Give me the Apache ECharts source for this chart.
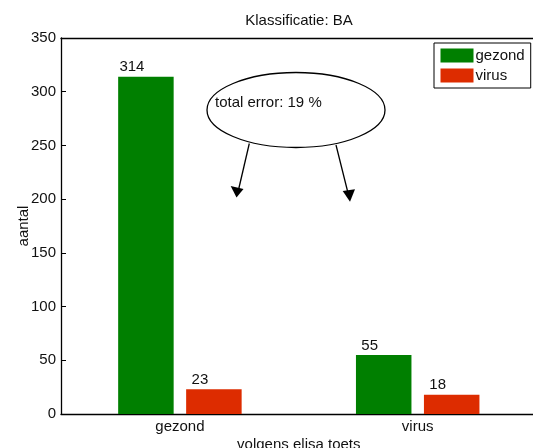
<!DOCTYPE html>
<html>
<head>
<meta charset="utf-8">
<script src="https://cdn.jsdelivr.net/npm/echarts@6/dist/echarts.min.js"></script>
<style>
  html, body { margin: 0; padding: 0; background: #fff; }
  #chart { width: 533px; height: 448px; }
</style>
</head>
<body>
<div id="chart"></div>
<script>
// Counts per ELISA class, split by classification outcome
const categories = ['gezond', 'virus'];
const seriesNames = ['gezond', 'virus'];
const gezondValues = [314, 55];
const virusValues = [23, 18];
const yTicks = { min: 0, max: 350, interval: 50 };
const titleText = 'Klassificatie: BA';
const xAxisName = 'volgens elisa toets';
const yAxisName = 'aantal';
const noteText = 'total error: 19 %';

const FONT = 'Liberation Sans, Arial, Helvetica, sans-serif';
const TEXT = '#111';
const GREEN = '#007f00';
const RED = '#dd2c00';

const chart = echarts.init(document.getElementById('chart'), null, { renderer: 'canvas' });

const barLabel = {
  show: true,
  position: 'top',
  distance: 2,
  offset: [-14, 0],
  color: TEXT,
  fontFamily: FONT,
  fontSize: 15,
  formatter: '{c}'
};

const option = {
  backgroundColor: '#fff',
  animation: false,
  title: {
    text: titleText,
    left: 299,
    top: 13,
    padding: 0,
    textAlign: 'center',
    textStyle: { fontFamily: FONT, fontSize: 15, fontWeight: 'normal', color: TEXT }
  },
  legend: {
    data: seriesNames,
    orient: 'vertical',
    left: 434,
    top: 43,
    padding: [5, 6, 5, 6.5],
    itemWidth: 33,
    itemHeight: 14,
    itemGap: 5,
    icon: 'rect',
    borderColor: '#000',
    borderWidth: 1,
    backgroundColor: '#fff',
    textStyle: { fontFamily: FONT, fontSize: 15, color: TEXT, lineHeight: 14, padding: [0, 0, 0, -3] }
  },
  grid: { left: 61, top: 38, width: 475.6, height: 376, outerBoundsMode: 'none', containLabel: false },
  xAxis: [
    {
      type: 'category',
      data: categories,
      position: 'bottom',
      name: xAxisName,
      nameLocation: 'middle',
      nameGap: 23,
      nameMoveOverlap: false,
      nameTextStyle: { fontFamily: FONT, fontSize: 15, color: TEXT },
      axisLine: { lineStyle: { color: '#000', width: 1.3 } },
      axisTick: { alignWithLabel: true, inside: true, length: 4, lineStyle: { color: '#000' } },
      axisLabel: { fontFamily: FONT, fontSize: 15, color: TEXT, margin: 5 },
      splitLine: { show: false }
    },
    {
      type: 'category',
      data: categories,
      position: 'top',
      axisLine: { lineStyle: { color: '#000', width: 1.3 } },
      axisTick: { alignWithLabel: true, inside: true, length: 4, lineStyle: { color: '#000' } },
      axisLabel: { show: false },
      splitLine: { show: false }
    }
  ],
  yAxis: {
    type: 'value',
    min: yTicks.min,
    max: yTicks.max,
    interval: yTicks.interval,
    name: yAxisName,
    nameLocation: 'middle',
    nameGap: 29.5,
    nameMoveOverlap: false,
    nameTextStyle: { fontFamily: FONT, fontSize: 15, color: TEXT },
    axisLine: { show: true, lineStyle: { color: '#000', width: 1.3 } },
    axisTick: { show: true, inside: true, length: 5, lineStyle: { color: '#000' } },
    axisLabel: { fontFamily: FONT, fontSize: 15, color: TEXT, margin: 5 },
    splitLine: { show: false }
  },
  series: [
    {
      name: seriesNames[0],
      type: 'bar',
      data: gezondValues,
      barWidth: 55.5,
      barGap: '22.5%',
      itemStyle: { color: GREEN },
      label: barLabel
    },
    {
      name: seriesNames[1],
      type: 'bar',
      data: virusValues,
      barWidth: 55.5,
      barGap: '22.5%',
      itemStyle: { color: RED },
      label: barLabel
    }
  ],
  graphic: [
    {
      type: 'ellipse',
      shape: { cx: 296, cy: 110, rx: 89, ry: 37.5 },
      style: { fill: 'rgba(0,0,0,0)', stroke: '#000', lineWidth: 1.3 },
      z: 10
    },
    {
      type: 'text',
      x: 215,
      y: 103,
      style: { text: noteText, fontFamily: FONT, fontSize: 15, fill: TEXT, verticalAlign: 'middle', align: 'left' },
      z: 11
    },
    {
      type: 'line',
      shape: { x1: 249.3, y1: 143.5, x2: 238, y2: 192 },
      style: { stroke: '#000', lineWidth: 1.3 },
      z: 10
    },
    {
      type: 'polygon',
      shape: { points: [[230.7, 186], [243.5, 189], [236.5, 197.5]] },
      style: { fill: '#000' },
      z: 10
    },
    {
      type: 'line',
      shape: { x1: 336, y1: 145, x2: 348.5, y2: 195 },
      style: { stroke: '#000', lineWidth: 1.3 },
      z: 10
    },
    {
      type: 'polygon',
      shape: { points: [[342.7, 191], [355, 189.3], [350, 201.7]] },
      style: { fill: '#000' },
      z: 10
    }
  ]
};

chart.setOption(option);
</script>
</body>
</html>
